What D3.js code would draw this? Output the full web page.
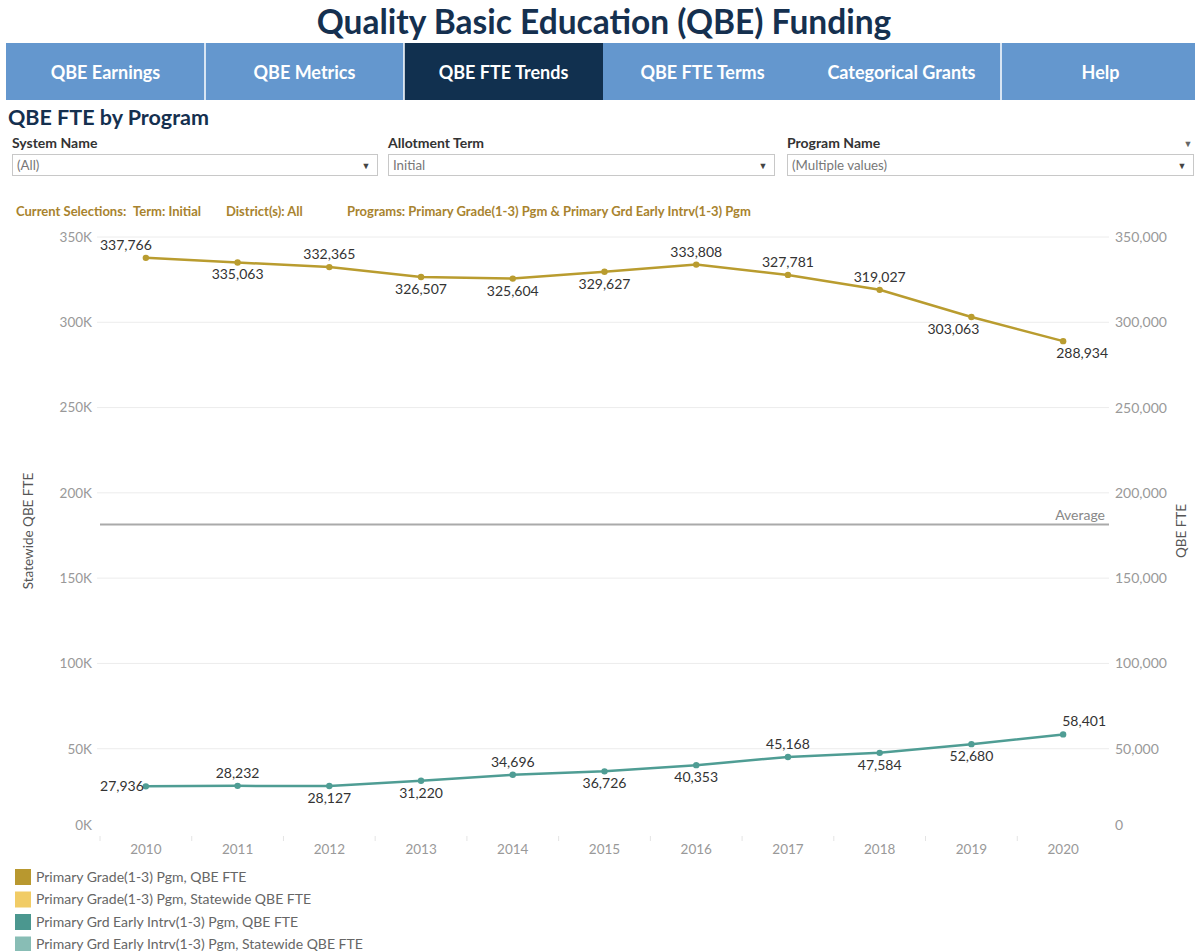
<!DOCTYPE html>
<html>
<head>
<meta charset="utf-8">
<script src="https://cdn.jsdelivr.net/npm/d3@7"></script>
<style>
  body { margin: 0; background: #fff; font-family: Lato, "Open Sans", sans-serif; }
  svg text { font-family: Lato, "Open Sans", sans-serif; }
</style>
</head>
<body>
<svg id="chart" width="1195" height="951"></svg>
<script>
// Data
var years = [2010, 2011, 2012, 2013, 2014, 2015, 2016, 2017, 2018, 2019, 2020];
var primaryGrade = [337766, 335063, 332365, 326507, 325604, 329627, 333808, 327781, 319027, 303063, 288934];
var earlyIntrv = [27936, 28232, 28127, 31220, 34696, 36726, 40353, 45168, 47584, 52680, 58401];
var leftTicks = [0, 50000, 100000, 150000, 200000, 250000, 300000, 350000];
var tabs = ["QBE Earnings", "QBE Metrics", "QBE FTE Trends", "QBE FTE Terms", "Categorical Grants", "Help"];
var legendItems = [
  "Primary Grade(1-3) Pgm, QBE FTE",
  "Primary Grade(1-3) Pgm, Statewide QBE FTE",
  "Primary Grd Early Intrv(1-3) Pgm, QBE FTE",
  "Primary Grd Early Intrv(1-3) Pgm, Statewide QBE FTE"
];
// label placement for each point (t = above, b = below, etc.)
var goldLabelPos = ["tl", "b", "t", "b", "b", "b", "t", "t", "t", "bl", "br"];
var tealLabelPos = ["l", "t", "b", "b", "t", "b", "b", "t", "b", "b", "tr"];

var gold = "#b99c2f", teal = "#4f9d94";
var legendColors = ["#b8982f", "#f1cc66", "#4b978f", "#88bdb5"];
var navy = "#15304f";

var svg = d3.select("#chart");

// Title
svg.append("text")
  .attr("x", 604).attr("y", 34)
  .attr("text-anchor", "middle")
  .style("font-size", "33.5px").style("font-weight", "bold")
  .attr("fill", navy)
  .text("Quality Basic Education (QBE) Funding");

// Navigation tabs
var tabX = d3.scaleBand().domain(tabs).range([6, 1200]);
var nav = svg.append("g");
nav.selectAll("rect").data(tabs).enter().append("rect")
  .attr("x", function(d) { return tabX(d); })
  .attr("y", 43)
  .attr("width", tabX.bandwidth())
  .attr("height", 57)
  .attr("fill", function(d) { return d == "QBE FTE Trends" ? "#11304f" : "#6497ce"; });
nav.selectAll("line").data(["QBE Metrics", "QBE FTE Trends", "Help"]).enter().append("line")
  .attr("x1", function(d) { return tabX(d); })
  .attr("x2", function(d) { return tabX(d); })
  .attr("y1", 43).attr("y2", 100)
  .attr("stroke", "#fff").attr("stroke-width", 1.5);
nav.selectAll("text").data(tabs).enter().append("text")
  .attr("x", function(d) { return tabX(d) + tabX.bandwidth() / 2; })
  .attr("y", 79)
  .attr("text-anchor", "middle")
  .attr("fill", "#fff")
  .style("font-size", "18px").style("font-weight", "bold")
  .text(function(d) { return d; });

// Sheet title
svg.append("text")
  .attr("x", 8).attr("y", 125)
  .style("font-size", "21.5px").style("font-weight", "bold")
  .attr("fill", navy)
  .text("QBE FTE by Program");

// Filters
var filters = [
  {label: "System Name", value: "(All)", x: 12, w: 366},
  {label: "Allotment Term", value: "Initial", x: 388, w: 387},
  {label: "Program Name", value: "(Multiple values)", x: 787, w: 407}
];
var f = svg.append("g").selectAll("g").data(filters).enter().append("g");
f.append("text")
  .attr("x", function(d) { return d.x; }).attr("y", 148)
  .style("font-size", "14px").style("font-weight", "bold")
  .attr("fill", "#333")
  .text(function(d) { return d.label; });
f.append("rect")
  .attr("x", function(d) { return d.x + 0.5; }).attr("y", 154.5)
  .attr("width", function(d) { return d.w - 1; }).attr("height", 21)
  .attr("fill", "#fff").attr("stroke", "#c8c8c8");
f.append("text")
  .attr("x", function(d) { return d.x + 5; }).attr("y", 169.5)
  .style("font-size", "13.3px")
  .attr("fill", "#777")
  .text(function(d) { return d.value; });
f.append("text")
  .attr("x", function(d) { return d.x + d.w - 12; }).attr("y", 169)
  .attr("text-anchor", "middle")
  .style("font-size", "9px")
  .attr("fill", "#444")
  .text("▼");
svg.append("text")
  .attr("x", 1188).attr("y", 147)
  .attr("text-anchor", "middle")
  .style("font-size", "9px").attr("fill", "#666")
  .text("▼");

// Current selections
var sel = [
  {t: "Current Selections:", x: 16},
  {t: "Term: Initial", x: 133},
  {t: "District(s): All", x: 226},
  {t: "Programs: Primary Grade(1-3) Pgm & Primary Grd Early Intrv(1-3) Pgm", x: 347}
];
svg.append("g").selectAll("text").data(sel).enter().append("text")
  .attr("x", function(d) { return d.x; }).attr("y", 216)
  .style("font-size", "13px").style("font-weight", "bold")
  .attr("fill", "#a8832e")
  .text(function(d) { return d.t; });

// Chart scales
var x = d3.scaleBand().domain(years).range([100, 1109]);
var y = d3.scaleLinear().domain([0, 350000]).range([834, 237]);
var cx = function(i) { return x(years[i]) + x.bandwidth() / 2; };

var plot = svg.append("g");

// gridlines
plot.selectAll(".grid").data(leftTicks.slice(1)).enter().append("line")
  .attr("x1", 97).attr("x2", 1109)
  .attr("y1", function(d) { return y(d); })
  .attr("y2", function(d) { return y(d); })
  .attr("stroke", "#ececec");

// left axis
var leftAxis = svg.append("g")
  .attr("transform", "translate(96,0)")
  .call(d3.axisLeft(y).tickValues(leftTicks).tickSize(0).tickPadding(4)
    .tickFormat(function(d) { return (d / 1000) + "K"; }));
leftAxis.select(".domain").remove();
leftAxis.selectAll("text").style("font-size", "13.5px").attr("fill", "#999");
leftAxis.selectAll(".tick").filter(function(d) { return d == 0; })
  .select("text").attr("dy", "-0.3em");

// right axis
var rightAxis = svg.append("g")
  .attr("transform", "translate(1111,0)")
  .call(d3.axisRight(y).tickValues(leftTicks).tickSize(0).tickPadding(4)
    .tickFormat(d3.format(",")));
rightAxis.select(".domain").remove();
rightAxis.selectAll("text").style("font-size", "14px").attr("fill", "#999");
rightAxis.selectAll(".tick").filter(function(d) { return d == 0; })
  .select("text").attr("dy", "-0.3em");

// bottom axis
var bottomAxis = svg.append("g")
  .attr("transform", "translate(0,835)")
  .call(d3.axisBottom(x).tickSize(0).tickPadding(9));
bottomAxis.select(".domain").remove();
bottomAxis.selectAll("text").style("font-size", "13.5px").attr("fill", "#999");
svg.append("g").selectAll("line").data(years).enter().append("line")
  .attr("x1", function(d) { return x(d); })
  .attr("x2", function(d) { return x(d); })
  .attr("y1", 836).attr("y2", 841)
  .attr("stroke", "#e4e4e4");

// axis titles
svg.append("text")
  .attr("transform", "translate(33,531) rotate(-90)")
  .attr("text-anchor", "middle")
  .style("font-size", "13.5px").attr("fill", "#555")
  .text("Statewide QBE FTE");
svg.append("text")
  .attr("transform", "translate(1186,531) rotate(-90)")
  .attr("text-anchor", "middle")
  .style("font-size", "13.5px").attr("fill", "#555")
  .text("QBE FTE");

// average reference line
var avg = d3.mean(primaryGrade.concat(earlyIntrv));
plot.append("line")
  .attr("x1", 100).attr("x2", 1109)
  .attr("y1", y(avg)).attr("y2", y(avg))
  .attr("stroke", "#aaa").attr("stroke-width", 2);
plot.append("text")
  .attr("x", 1105).attr("y", y(avg) - 5)
  .attr("text-anchor", "end")
  .style("font-size", "14px").attr("fill", "#888")
  .text("Average");

// lines and points
function drawSeries(values, color, pos) {
  var line = d3.line()
    .x(function(d, i) { return cx(i); })
    .y(function(d) { return y(d); });
  plot.append("path")
    .datum(values)
    .attr("d", line)
    .attr("fill", "none")
    .attr("stroke", color)
    .attr("stroke-width", 2.5);
  plot.selectAll(null).data(values).enter().append("circle")
    .attr("cx", function(d, i) { return cx(i); })
    .attr("cy", function(d) { return y(d); })
    .attr("r", 3.2)
    .attr("fill", color);
  plot.selectAll(null).data(values).enter().append("text")
    .attr("x", function(d, i) {
      var p = pos[i];
      if (p == "tl") return cx(i) - 20;
      if (p == "bl") return cx(i) - 18;
      if (p == "br") return cx(i) + 19;
      if (p == "tr") return cx(i) + 21;
      if (p == "l") return cx(i) - 2;
      return cx(i);
    })
    .attr("y", function(d, i) {
      var p = pos[i];
      if (p[0] == "t") return y(d) - 13;
      if (p[0] == "b") return y(d) + 12;
      return y(d);
    })
    .attr("dy", "0.35em")
    .attr("text-anchor", function(d, i) { return pos[i] == "l" ? "end" : "middle"; })
    .style("font-size", "14px")
    .attr("fill", "#333")
    .text(function(d) { return d3.format(",")(d); });
}
drawSeries(primaryGrade, gold, goldLabelPos);
drawSeries(earlyIntrv, teal, tealLabelPos);

// legend
var legend = svg.append("g").selectAll("g").data(legendItems).enter().append("g")
  .attr("transform", function(d, i) { return "translate(15," + (869 + i * 22.5) + ")"; });
legend.append("rect")
  .attr("width", 16).attr("height", 16)
  .attr("fill", function(d, i) { return legendColors[i]; });
legend.append("text")
  .attr("x", 21).attr("y", 8).attr("dy", "0.35em")
  .style("font-size", "14px").attr("fill", "#666")
  .text(function(d) { return d; });
</script>
</body>
</html>
